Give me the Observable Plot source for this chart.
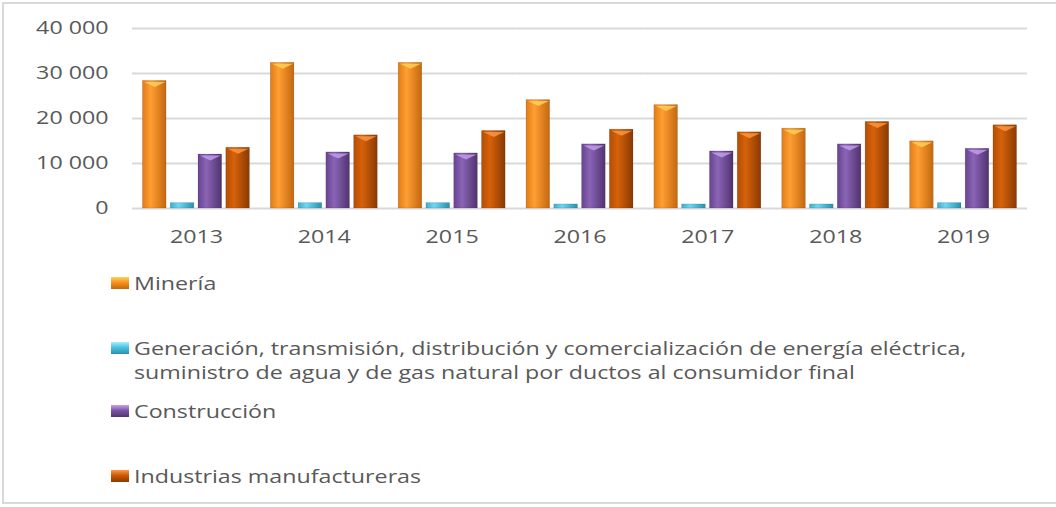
<!DOCTYPE html>
<html>
<head>
<meta charset="utf-8">
<script src="https://cdn.jsdelivr.net/npm/d3@7"></script>
<script src="https://cdn.jsdelivr.net/npm/@observablehq/plot@0.6"></script>
<style>
  html, body { margin: 0; padding: 0; background: #fff; overflow: hidden; }
  #wrap { position: relative; width: 1056px; height: 507px; }
  #frame { position: absolute; left: 2px; top: 2px; width: 1070px; height: 502px; border: 2px solid #d9d9d9; box-sizing: border-box; }
  #chart { position: absolute; left: 0; top: 0; }
  .leg { position: absolute; left: 111px; font-family: "Open Sans", sans-serif; font-size: 18px; color: #595959; line-height: 24px; display: flex; align-items: flex-start; }
  .sw { width: 18px; height: 12px; margin-top: 6px; margin-right: 5px; flex: none; box-sizing: border-box; }
  .tx { transform: scaleX(1.29); transform-origin: 0 0; white-space: nowrap; }
</style>
</head>
<body>
<div id="wrap">
  <div id="frame"></div>
  <div id="chart"></div>
  <div id="legend"></div>
</div>
<script>
const years = ["2013", "2014", "2015", "2016", "2017", "2018", "2019"];
const series = [
  "Minería",
  "Generación, transmisión, distribución y comercialización de energía eléctrica, suministro de agua y de gas natural por ductos al consumidor final",
  "Construcción",
  "Industrias manufactureras"
];
const legendLabels = [
  ["Minería"],
  ["Generación, transmisión, distribución y comercialización de energía eléctrica,", "suministro de agua y de gas natural por ductos al consumidor final"],
  ["Construcción"],
  ["Industrias manufactureras"]
];
const mineria      = [28350, 32370, 32370, 24090, 22980, 17740, 14920];
const generacion   = [1200, 1200, 1200, 900, 900, 900, 1200];
const construccion = [12000, 12460, 12240, 14250, 12680, 14250, 13270];
const industrias   = [13500, 16260, 17230, 17520, 16930, 19240, 18500];
const yTicks = [0, 10000, 20000, 30000, 40000];

const baseColors = ["#f7921e", "#4bc3e0", "#7d55a6", "#cc5a08"];
const grads = [
  ["#e07c18", "#ff9e32", "#c4680f"],
  ["#3aaed0", "#6fd6f0", "#2a90b0"],
  ["#684390", "#8a64b6", "#50336f"],
  ["#b54c05", "#d6620b", "#8a3a02"]
];
const tops = ["#ffd45a", "#a8ecff", "#c8a0ee", "#ff9a44"];

const valuesBySeries = [mineria, generacion, construccion, industrias];
const data = [];
years.forEach((yr, i) => {
  series.forEach((s, j) => {
    data.push({year: yr, series: s, idx: j, value: valuesBySeries[j][i]});
  });
});

const fmt = d => d3.format(",")(d).replace(/,/g, " ");

// flattened downward triangle used as the bevel at the top of each bar
const bevel = {
  draw(context) {
    context.moveTo(-10.5, 0);
    context.lineTo(10.5, 0);
    context.lineTo(0, 5);
    context.closePath();
  }
};

const plot = Plot.plot({
  width: 1056,
  height: 252,
  marginTop: 28,
  marginBottom: 44,
  marginLeft: 132,
  marginRight: 29,
  style: {fontFamily: "'Open Sans', sans-serif", color: "#595959", background: "transparent"},
  fx: {domain: years, paddingInner: 0, paddingOuter: 0, round: false},
  x: {domain: series, paddingInner: 0.15, paddingOuter: 0.376, axis: null, round: false},
  y: {domain: [0, 40000]},
  color: {domain: series, range: series.map((s, j) => `url(#grad${j})`)},
  marks: [
    Plot.ruleY(yTicks, {stroke: "#d9d9d9", strokeWidth: 1.8}),
    Plot.barY(data, {fx: "year", x: "series", y: "value", fill: "series", stroke: "#00000030", strokeWidth: 0.6}),
    Plot.dot(data.filter(d => d.value > 3000), {fx: "year", x: "series", y: "value", symbol: bevel, r: 5, dy: 1, fill: d => tops[d.idx], fillOpacity: 0.8, stroke: "none"}),
    Plot.axisY({ticks: yTicks, tickFormat: fmt, tickSize: 0, tickPadding: 24, fontSize: 18, label: null}),
    Plot.axisFx({anchor: "bottom", tickSize: 0, tickPadding: 22, fontSize: 18, label: null})
  ]
});

// gradient definitions for the bar fills
const svgNS = "http://www.w3.org/2000/svg";
const defs = document.createElementNS(svgNS, "defs");
grads.forEach((g, j) => {
  const lg = document.createElementNS(svgNS, "linearGradient");
  lg.setAttribute("id", `grad${j}`);
  lg.setAttribute("x1", "0"); lg.setAttribute("x2", "1");
  lg.setAttribute("y1", "0"); lg.setAttribute("y2", "0");
  [[0, g[0]], [0.35, g[1]], [1, g[2]]].forEach(([o, c]) => {
    const st = document.createElementNS(svgNS, "stop");
    st.setAttribute("offset", o);
    st.setAttribute("stop-color", c);
    lg.appendChild(st);
  });
  defs.appendChild(lg);
});
plot.insertBefore(defs, plot.firstChild);

// the reference text is horizontally stretched; widen the axis labels around their anchors
plot.querySelectorAll('g[aria-label$="tick label"] text').forEach(t => {
  const tr = t.getAttribute("transform") || "";
  t.setAttribute("transform", tr + " scale(1.29,1)");
});
document.getElementById("chart").appendChild(plot);

// legend
const legTops = [271, 336, 399, 464];
const legend = document.getElementById("legend");
series.forEach((s, j) => {
  const item = document.createElement("div");
  item.className = "leg";
  item.style.top = legTops[j] + "px";
  const sw = document.createElement("div");
  sw.className = "sw";
  sw.style.background = `linear-gradient(180deg, ${tops[j]} 0%, ${baseColors[j]} 45%, ${grads[j][2]} 100%)`;
  const tx = document.createElement("div");
  tx.className = "tx";
  tx.innerHTML = legendLabels[j].join("<br>");
  item.appendChild(sw);
  item.appendChild(tx);
  legend.appendChild(item);
});
</script>
</body>
</html>
